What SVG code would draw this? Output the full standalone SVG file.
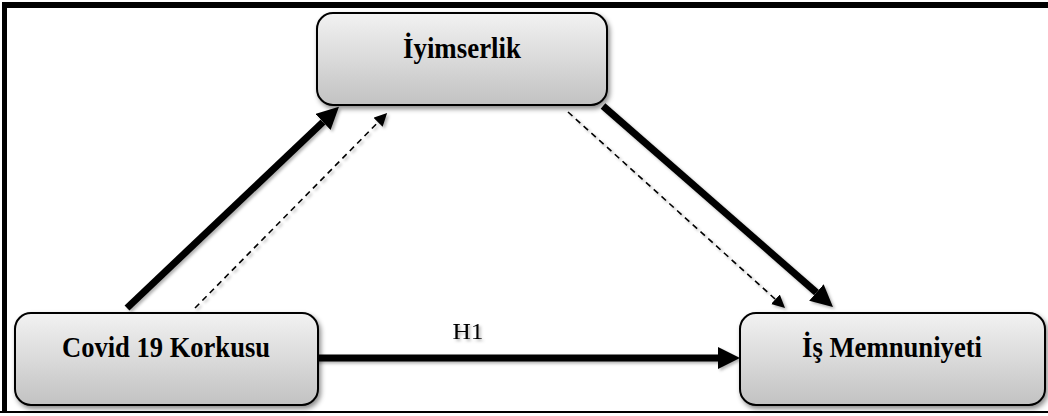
<svg xmlns="http://www.w3.org/2000/svg" width="1048" height="416" viewBox="0 0 1048 416">
  <defs>
    <linearGradient id="boxFill" x1="0" y1="0" x2="0" y2="1">
      <stop offset="0" stop-color="#f2f2f2"/>
      <stop offset="1" stop-color="#c2c2c2"/>
    </linearGradient>
    <filter id="boxShadow" x="-10%" y="-10%" width="130%" height="140%">
      <feDropShadow dx="2" dy="3" stdDeviation="2.5" flood-color="#000" flood-opacity="0.45"/>
    </filter>
    <filter id="lineShadow" x="-10%" y="-10%" width="130%" height="130%">
      <feDropShadow dx="2" dy="2" stdDeviation="1.5" flood-color="#000" flood-opacity="0.3"/>
    </filter>
    <marker id="headBig" viewBox="0 -11 22 22" refX="0" refY="0" markerUnits="userSpaceOnUse" markerWidth="22" markerHeight="22" orient="auto">
      <path d="M0,-11 L22,0 L0,11 Z" fill="#000"/>
    </marker>
    <marker id="headSmall" viewBox="0 -6.5 13 13" refX="0" refY="0" markerUnits="userSpaceOnUse" markerWidth="13" markerHeight="13" orient="auto">
      <path d="M0,-6.5 L13,0 L0,6.5 Z" fill="#000"/>
    </marker>
  </defs>
  <style>
    .box { fill: url(#boxFill); stroke: #000; stroke-width: 2; filter: url(#boxShadow); }
    .label { font-family: "Liberation Serif", "Times New Roman", serif; font-weight: bold; font-size: 29px; text-anchor: middle; fill: #000; }
    .thick { stroke: #000; stroke-width: 7; fill: none; marker-end: url(#headBig); }
    .dash { stroke: #000; stroke-width: 1.6; fill: none; stroke-dasharray: 6 4.5; marker-end: url(#headSmall); }
    .hlabel { font-family: "Liberation Serif", "Times New Roman", serif; font-size: 24px; text-anchor: middle; fill: #000; }
    .frame { stroke: #000; fill: none; }
  </style>

  <rect width="1048" height="416" fill="#fff"/>

  <!-- outer frame -->
  <g id="frame">
    <line class="frame" x1="2" y1="5" x2="1048" y2="5" stroke-width="6"/>
    <line class="frame" x1="4.5" y1="2" x2="4.5" y2="413" stroke-width="5"/>
    <line class="frame" x1="0" y1="412" x2="1048" y2="412" stroke-width="2"/>
  </g>

  <!-- connectors -->
  <g id="connectors" filter="url(#lineShadow)">
    <line class="thick" x1="127" y1="308" x2="323" y2="122"/>
    <line class="dash" x1="195" y1="308" x2="378" y2="122.3"/>
    <line class="thick" x1="603" y1="106" x2="816.4" y2="292.5"/>
    <line class="dash" x1="568" y1="112" x2="775.4" y2="299.3"/>
    <line class="thick" x1="313" y1="358" x2="718" y2="358" stroke-width="8"/>
    <text class="hlabel" x="468" y="339" textLength="31" lengthAdjust="spacingAndGlyphs">H1</text>
  </g>

  <!-- nodes -->
  <g id="node-iyimserlik">
    <rect class="box" x="317" y="13" width="290" height="92" rx="16" ry="16"/>
    <text class="label" x="462" y="58" textLength="118" lengthAdjust="spacingAndGlyphs">İyimserlik</text>
  </g>
  <g id="node-covid">
    <rect class="box" x="15" y="313" width="303" height="92" rx="16" ry="16"/>
    <text class="label" x="166" y="357" textLength="208" lengthAdjust="spacingAndGlyphs">Covid 19 Korkusu</text>
  </g>
  <g id="node-is-memnuniyeti">
    <rect class="box" x="740" y="313" width="305" height="92" rx="16" ry="16"/>
    <text class="label" x="892" y="357" textLength="180" lengthAdjust="spacingAndGlyphs">İş Memnuniyeti</text>
  </g>
</svg>
